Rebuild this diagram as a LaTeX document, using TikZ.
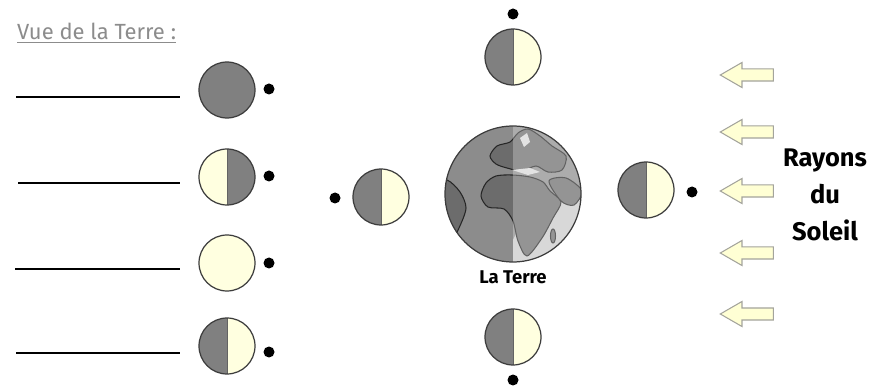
\documentclass[tikz,border=0pt]{standalone}
\usepackage{fontspec}
\setmainfont{Fira Sans}
\usetikzlibrary{shapes.arrows, positioning}
\definecolor{MoonGray}{HTML}{808080}
\definecolor{MoonLight}{HTML}{FFFFE0}
\definecolor{MoonEdge}{HTML}{3C3C3C}
\definecolor{RayFill}{HTML}{FFFFD4}
\definecolor{RayEdge}{HTML}{A4A49C}
\definecolor{TitleGray}{HTML}{8C8C8C}
\definecolor{Ocean}{HTML}{8C8C8C}
\definecolor{OceanLight}{HTML}{CACACA}
\definecolor{Land}{HTML}{6C6C6C}

\tikzset{
  moon/.style={circle, draw=MoonEdge, line width=0.7pt, minimum size=1.12cm, inner sep=0pt},
  newmoon/.style={moon, fill=MoonGray},
  fullmoon/.style={moon, fill=MoonLight},
  litright/.style={moon, fill=MoonLight, path picture={
      \fill[MoonGray] (path picture bounding box.south west) rectangle (path picture bounding box.north);
      \draw[MoonEdge!80, line width=0.4pt] (path picture bounding box.south) -- (path picture bounding box.north);}},
  litleft/.style={moon, fill=MoonGray, path picture={
      \fill[MoonLight] (path picture bounding box.south west) rectangle (path picture bounding box.north);
      \draw[MoonEdge!80, line width=0.4pt] (path picture bounding box.south) -- (path picture bounding box.north);}},
  viewer/.style={circle, fill=black, minimum size=0.22cm, inner sep=0pt},
  ray/.style={single arrow, shape border rotate=180, draw=RayEdge, fill=RayFill, line width=0.6pt,
      minimum height=1.06cm, minimum width=0pt, inner xsep=0pt, inner ysep=0.11cm,
      single arrow head extend=0.13cm, single arrow tip angle=60},
  blank/.style={line width=0.9pt},
  land/.style={fill=Land, draw=black!85, line width=0.6pt},
}

\begin{document}
\begin{tikzpicture}[x=0.02cm, y=-0.02cm]
  \useasboundingbox (0,0) rectangle (883,388);

  % left column: what is seen from the Earth
  \node[anchor=west, text=TitleGray, font=\fontsize{12.5}{14}\selectfont] (vue) at (11,33)
    {\underline{Vue de la Terre :}};

  \node[newmoon]  (v1) at (227,90)  {};
  \node[litleft]  (v2) at (227,177) {};
  \node[fullmoon] (v3) at (227,263) {};
  \node[litright] (v4) at (227,346) {};

  \node[viewer] (o1) at (269,89)  {};
  \node[viewer] (o2) at (269,176) {};
  \node[viewer] (o3) at (269,263) {};
  \node[viewer] (o4) at (269,352) {};

  \coordinate (a1) at (16,97);   \coordinate (b1) at (180,97);
  \coordinate (a2) at (18,183);  \coordinate (b2) at (180,183);
  \coordinate (a3) at (15,269);  \coordinate (b3) at (180,269);
  \coordinate (a4) at (16,353);  \coordinate (b4) at (180,353);
  \foreach \i in {1,...,4}
    \draw[blank] (a\i) -- (b\i);

  % the Earth, night side on the left
  \begin{scope}
    \clip (513,194) circle [radius=68];
    \fill[Ocean] (430,110) rectangle (600,280);
    \fill[OceanLight] (535,195) -- (590,190) -- (590,280) -- (513,280) -- (513,240) -- cycle;
    % South America
    \draw[land] plot[smooth cycle] coordinates {(430,182) (447,180) (460,192) (466,208) (459,228) (449,246) (436,250)};
    % Europe
    \draw[land] plot[smooth cycle] coordinates {(490,156) (497,146) (510,142) (518,133) (528,129) (540,136) (552,146) (566,156) (562,170) (548,172) (536,166) (522,171) (507,168) (496,164)};
    \fill[white!85!black] (520,138) -- (527,133) -- (530,142) -- (524,147) -- cycle;
    \fill[white!85!black] (512,170) -- (530,168) -- (540,172) -- (528,175) -- cycle;
    % Africa
    \draw[land] plot[smooth cycle] coordinates {(496,176) (512,175) (530,177) (543,182) (550,191) (561,202) (553,218) (542,238) (527,256) (518,241) (513,221) (504,209) (488,207) (481,196) (486,183)};
    % Arabia and Madagascar
    \draw[land] plot[smooth cycle] coordinates {(549,181) (566,178) (582,191) (574,205) (561,201)};
    \draw[land] (553,236) ellipse [x radius=2.5, y radius=7];
    % day side
    \fill[white, opacity=0.28] (513,110) rectangle (600,280);
  \end{scope}
  \node[circle, draw=MoonEdge, line width=0.7pt, minimum size=2.72cm, inner sep=0pt] (earth) at (513,194) {};
  \node[below=0.04cm of earth, font=\bfseries\fontsize{10.5}{12}\selectfont] (terre) {La Terre};

  % the Moon around the Earth
  \node[litright] (top)    at (513,57)  {};
  \node[litright] (left)   at (381,197) {};
  \node[litright] (right)  at (646,190) {};
  \node[litright] (bottom) at (513,337) {};

  \node[viewer] (otop)    at (513,14)  {};
  \node[viewer] (oleft)   at (335,198) {};
  \node[viewer] (oright)  at (692,192) {};
  \node[viewer] (obottom) at (513,380) {};

  % sunlight
  \foreach \y [count=\k] in {75,132,191,253,314}
    \node[ray] (ray\k) at (752,\y) {};
  \node[align=center, font=\bfseries\fontsize{14.5}{21}\selectfont] (sun) at (825,195)
    {Rayons\\du\\Soleil};
\end{tikzpicture}
\end{document}
